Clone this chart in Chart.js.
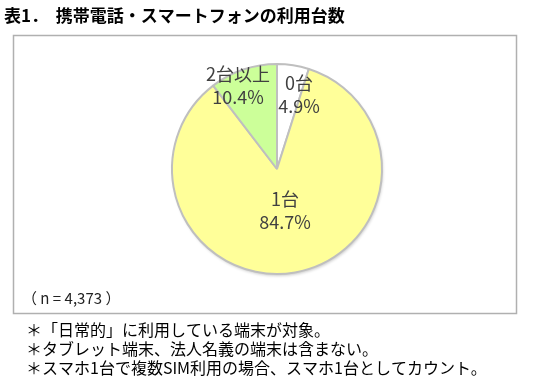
<!DOCTYPE html>
<html>
<head>
<meta charset="utf-8">
<script src="https://cdn.jsdelivr.net/npm/chart.js@4"></script>
<style>
  body { margin: 0; background: #fff; }
  #wrap { position: relative; width: 536px; height: 381px; }
</style>
</head>
<body>
<div id="wrap"><canvas id="pieChart" width="536" height="381"></canvas></div>
<script>
// dati del grafico
const categories = ['0台', '1台', '2台以上'];
const shares = [4.9, 84.7, 10.4];
const sliceColors = ['#FFFFFF', '#FFFF99', '#CCFF99'];
// testi
const titleText = '表1．  携帯電話・スマートフォンの利用台数';
const sampleText = '（ n = 4,373 ）';
const notes = [
  '＊「日常的」に利用している端末が対象。',
  '＊タブレット端末、法人名義の端末は含まない。',
  '＊スマホ1台で複数SIM利用の場合、スマホ1台としてカウント。'
];
// spostamento etichette rispetto al centro della torta
const labelOffsets = [[22, -75], [8, 41], [-39, -84]];

const FONT = '"Noto Sans CJK JP", "Noto Sans", sans-serif';

// cornice, titolo e note
const framePlugin = {
  id: 'frame',
  beforeDraw(chart) {
    const c = chart.ctx;
    c.save();
    c.fillStyle = '#fff';
    c.fillRect(0, 0, chart.width, chart.height);
    c.strokeStyle = '#B0B0B0';
    c.lineWidth = 1.5;
    c.strokeRect(13.5, 35.5, 503, 278);
    c.fillStyle = '#000';
    c.textBaseline = 'middle';
    c.font = 'bold 17px ' + FONT;
    c.fillText(titleText, 4, 16);
    c.fillStyle = '#222';
    c.font = '15px ' + FONT;
    c.fillText(sampleText, 22, 298);
    c.fillStyle = '#000';
    c.font = '16px ' + FONT;
    notes.forEach((t, i) => c.fillText(t, 26, 330 + i * 19));
    c.restore();
  },
  beforeDatasetsDraw(chart) {
    // ombra leggera della torta
    const c = chart.ctx;
    c.save();
    c.shadowColor = 'rgba(0,0,0,0.2)';
    c.shadowBlur = 3;
    c.shadowOffsetX = 1;
    c.shadowOffsetY = 2;
    const arc = chart.getDatasetMeta(0).data[0];
    c.beginPath();
    c.arc(arc.x, arc.y, arc.outerRadius, 0, Math.PI * 2);
    c.fillStyle = '#fff';
    c.fill();
    c.restore();
  },
  afterDatasetsDraw(chart) {
    const c = chart.ctx;
    const meta = chart.getDatasetMeta(0);
    c.save();
    c.fillStyle = '#404040';
    c.font = '18px ' + FONT;
    c.textAlign = 'center';
    c.textBaseline = 'middle';
    meta.data.forEach((arc, i) => {
      const x = arc.x + labelOffsets[i][0];
      const y = arc.y + labelOffsets[i][1];
      c.fillText(categories[i], x, y - 11);
      c.fillText(shares[i].toFixed(1) + '%', x, y + 12);
    });
    c.restore();
  }
};

const ctx = document.getElementById('pieChart').getContext('2d');
new Chart(ctx, {
  type: 'pie',
  data: {
    labels: categories,
    datasets: [{
      data: shares,
      backgroundColor: sliceColors,
      borderColor: '#BFBFBF',
      borderWidth: 2
    }]
  },
  options: {
    responsive: false,
    animation: false,
    layout: { padding: { left: 171, right: 153, top: 63, bottom: 106 } },
    plugins: {
      legend: { display: false },
      tooltip: { enabled: false }
    }
  },
  plugins: [framePlugin]
});
</script>
</body>
</html>
